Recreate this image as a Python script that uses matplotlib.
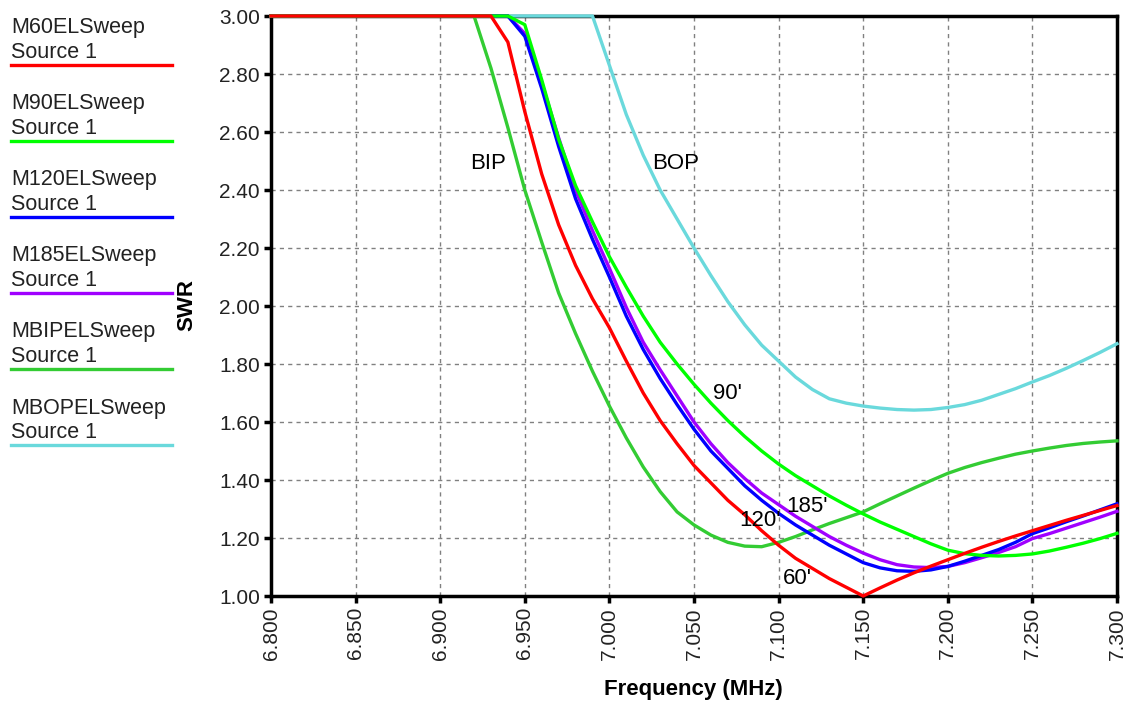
import numpy as np
import matplotlib
matplotlib.use("Agg")
import matplotlib.pyplot as plt
from matplotlib.lines import Line2D

plt.rcParams['font.family'] = ['Liberation Sans', 'DejaVu Sans']

# Frequency sweep (MHz); below 6.90 every curve is clipped at 3.00
freq = np.concatenate(([6.80], np.round(np.arange(6.90, 7.3001, 0.01), 2)))

swr_60 = [3.0, 3.0, 3.0, 3.0, 3.0, 2.91, 2.67, 2.455, 2.28, 2.14, 2.025,
          1.925, 1.81, 1.70, 1.605, 1.525, 1.45, 1.39, 1.33, 1.28, 1.225,
          1.175, 1.13, 1.095, 1.06, 1.03, 1.00, 1.028, 1.055, 1.08, 1.103,
          1.125, 1.147, 1.168, 1.188, 1.207, 1.225, 1.243, 1.261, 1.278,
          1.295, 1.312]
swr_90 = [3.0, 3.0, 3.0, 3.0, 3.0, 3.0, 2.97, 2.78, 2.575, 2.415, 2.29,
          2.17, 2.065, 1.965, 1.875, 1.80, 1.73, 1.665, 1.605, 1.55, 1.50,
          1.455, 1.415, 1.38, 1.345, 1.313, 1.283, 1.255, 1.23, 1.205, 1.18,
          1.158, 1.146, 1.14, 1.138, 1.14, 1.145, 1.155, 1.168, 1.182,
          1.198, 1.216]
swr_120 = [3.0, 3.0, 3.0, 3.0, 3.0, 3.0, 2.93, 2.75, 2.55, 2.37, 2.23,
           2.10, 1.965, 1.85, 1.75, 1.66, 1.575, 1.50, 1.44, 1.38, 1.33,
           1.285, 1.245, 1.21, 1.175, 1.145, 1.115, 1.097, 1.087, 1.085,
           1.09, 1.102, 1.12, 1.14, 1.16, 1.185, 1.215, 1.235, 1.256, 1.276,
           1.297, 1.318]
swr_185 = [3.0, 3.0, 3.0, 3.0, 3.0, 3.0, 2.94, 2.77, 2.58, 2.40, 2.26,
           2.13, 1.995, 1.875, 1.78, 1.69, 1.60, 1.525, 1.46, 1.405, 1.355,
           1.315, 1.275, 1.24, 1.205, 1.175, 1.148, 1.125, 1.108, 1.10,
           1.098, 1.102, 1.115, 1.132, 1.15, 1.17, 1.198, 1.215, 1.234,
           1.253, 1.272, 1.292]
swr_bip = [3.0, 3.0, 3.0, 3.0, 2.82, 2.615, 2.40, 2.22, 2.045, 1.905,
           1.775, 1.655, 1.545, 1.445, 1.36, 1.29, 1.245, 1.21, 1.185,
           1.172, 1.17, 1.185, 1.205, 1.228, 1.25, 1.27, 1.29, 1.318, 1.345,
           1.372, 1.398, 1.423, 1.443, 1.46, 1.475, 1.489, 1.50, 1.51, 1.519,
           1.526, 1.531, 1.535]
swr_bop = [3.0, 3.0, 3.0, 3.0, 3.0, 3.0, 3.0, 3.0, 3.0, 3.0, 3.0, 2.83,
           2.66, 2.52, 2.40, 2.30, 2.20, 2.105, 2.015, 1.935, 1.865, 1.81,
           1.755, 1.712, 1.68, 1.665, 1.655, 1.648, 1.643, 1.641, 1.643,
           1.65, 1.66, 1.675, 1.695, 1.715, 1.738, 1.76, 1.785, 1.812, 1.84,
           1.87]

names = ['M60ELSweep', 'M90ELSweep', 'M120ELSweep', 'M185ELSweep',
         'MBIPELSweep', 'MBOPELSweep']
series = [swr_60, swr_90, swr_120, swr_185, swr_bip, swr_bop]
colors = ['#ff0000', '#00ff00', '#0000ff', '#a000ff', '#33cc33', '#6ad9dc']
zorders = [8, 7, 6, 5, 4, 3]

# curve labels: text, freq, swr
labels = [('BIP', 6.928, 2.49), ('BOP', 7.039, 2.49), ("90'", 7.070, 1.70),
          ("185'", 7.117, 1.307), ("120'", 7.089, 1.262), ("60'", 7.111, 1.059)]

W, H = 1132, 702
fig = plt.figure(figsize=(W / 100, H / 100), dpi=100)
ax = fig.add_axes([271 / W, 1 - 596 / H, 846 / W, 580 / H])

for y, c, z in zip(series, colors, zorders):
    ax.plot(freq, y, color=c, linewidth=2.4, zorder=z, clip_on=False)

for t, fx, fy in labels:
    ax.text(fx, fy, t, fontsize=16, ha='center', va='center', zorder=10)

ax.set_xlim(6.8, 7.3)
ax.set_ylim(1.0, 3.0)
ax.set_xticks(np.round(np.arange(6.80, 7.3001, 0.05), 2))
ax.set_yticks(np.round(np.arange(1.0, 3.001, 0.2), 2))
ax.xaxis.set_major_formatter(plt.FormatStrFormatter('%.3f'))
ax.yaxis.set_major_formatter(plt.FormatStrFormatter('%.2f'))
ax.tick_params(axis='x', labelrotation=90, labelsize=15, width=2.5, length=5,
               pad=3, colors='black', labelcolor='#222222')
ax.tick_params(axis='y', labelsize=15, width=2.5, length=5, pad=3,
               labelcolor='#222222')
ax.grid(True, color='#808080', linestyle=(0, (3, 3)), linewidth=1)
for s in ax.spines.values():
    s.set_linewidth(2.5)
    s.set_zorder(2.5)

fig.text(187 / W, 1 - 305 / H, 'SWR', rotation=90, fontsize=16,
         fontweight='bold', ha='center', va='center')
fig.text(693 / W, 1 - 689 / H, 'Frequency (MHz)', fontsize=16,
         fontweight='bold', ha='center', va='center')

# legend on the left: name, "Source 1", colour line underneath
for i, (n, c) in enumerate(zip(names, colors)):
    y0 = 28 + 76 * i
    fig.text(11 / W, 1 - y0 / H, n, fontsize=15.5, ha='left', va='center',
             color='#222222')
    fig.text(11 / W, 1 - (y0 + 25) / H, 'Source 1', fontsize=15.5, ha='left',
             va='center', color='#222222')
    fig.add_artist(Line2D([11 / W, 172 / W], [1 - (y0 + 37) / H] * 2,
                          color=c, linewidth=2.4, transform=fig.transFigure))

plt.savefig('out.png', dpi=100)
